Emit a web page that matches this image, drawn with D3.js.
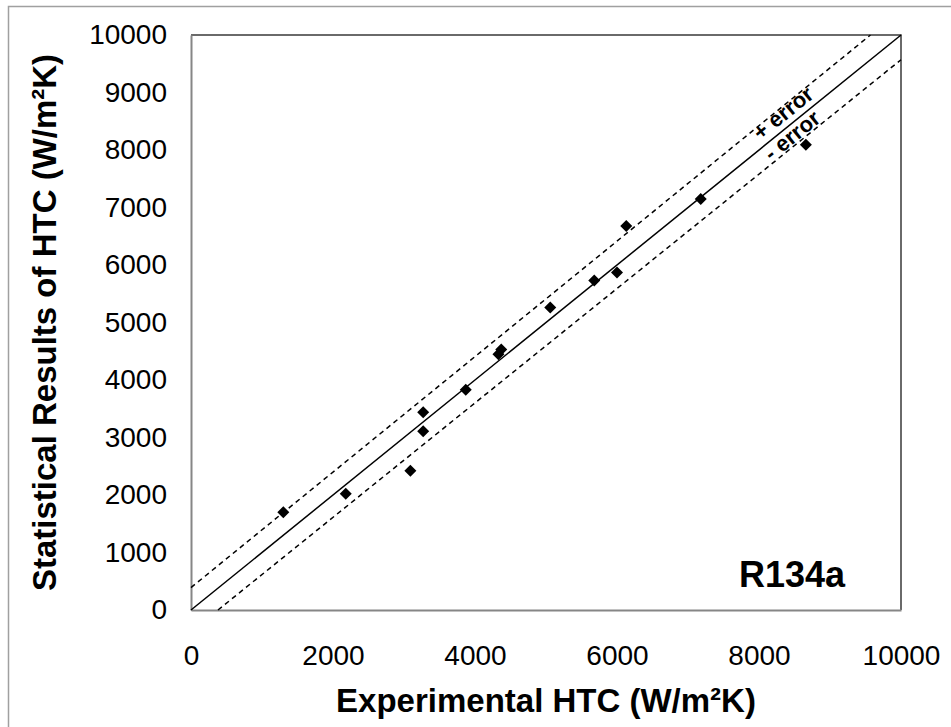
<!DOCTYPE html>
<html>
<head>
<meta charset="utf-8">
<script src="https://cdn.jsdelivr.net/npm/d3@7"></script>
<style>
  body { margin: 0; background: #fff; }
  text { font-family: "Liberation Sans", Arial, sans-serif; }
</style>
</head>
<body>
<svg id="drawing_region"></svg>
<script>
// measured vs predicted HTC (W/m2K)
const expHTC  = [1300, 2180, 3090, 3270, 3270, 3870, 4330, 4370, 5060, 5680, 6000, 6130, 7180, 8660];
const statHTC = [1700, 2020, 2420, 3110, 3440, 3830, 4450, 4530, 5260, 5730, 5870, 6680, 7150, 8090];

const xTicks = [0, 2000, 4000, 6000, 8000, 10000];
const yTicks = [0, 1000, 2000, 3000, 4000, 5000, 6000, 7000, 8000, 9000, 10000];

// reference lines (endpoints in data units)
const perfectLine = [[0, 0], [10000, 10000]];
const plusError   = [[0, 390], [9570, 10000]];
const minusError  = [[380, 0], [10000, 9570]];

const config = {
    width: 951,
    height: 727,
    margin: {top: 35, right: 50, bottom: 117, left: 191}
};

const svg = d3.select('#drawing_region')
    .attr('width', config.width)
    .attr('height', config.height);

// chart area border
svg.append('rect')
    .attr('x', 8.5).attr('y', 6.5)
    .attr('width', 1000).attr('height', 1000)
    .attr('fill', 'none')
    .attr('stroke', '#a0a0a0')
    .attr('stroke-width', 1.5);

const inner_width = config.width - config.margin.left - config.margin.right;   // 710
const inner_height = config.height - config.margin.top - config.margin.bottom; // 575

const chart = svg.append('g')
    .attr('transform', `translate(${config.margin.left}, ${config.margin.top})`);

const xscale = d3.scaleLinear().domain([0, 10000]).range([0, inner_width]);
const yscale = d3.scaleLinear().domain([0, 10000]).range([inner_height, 0]);

// plot frame: top & right dark
chart.append('path')
    .attr('d', `M0,0H${inner_width}V${inner_height}`)
    .attr('fill', 'none')
    .attr('stroke', '#3a3a3a')
    .attr('stroke-width', 1.5);

// axes
const xaxis = d3.axisBottom(xscale).tickValues(xTicks).tickSize(0).tickPadding(35).tickFormat(d3.format('d'));
const yaxis = d3.axisLeft(yscale).tickValues(yTicks).tickSize(0).tickPadding(24).tickFormat(d3.format('d'));

const xg = chart.append('g')
    .attr('transform', `translate(0, ${inner_height})`)
    .call(xaxis);
const yg = chart.append('g').call(yaxis);

[xg, yg].forEach(g => {
    g.select('.domain').attr('stroke', '#868686').attr('stroke-width', 2);
    g.selectAll('text')
        .attr('font-family', '"Liberation Sans", Arial, sans-serif')
        .attr('font-size', 28)
        .attr('fill', '#000');
});

// reference lines
const line = d3.line()
    .x(d => xscale(d[0]))
    .y(d => yscale(d[1]));

chart.append('path')
    .datum(perfectLine)
    .attr('d', line)
    .attr('fill', 'none')
    .attr('stroke', '#000')
    .attr('stroke-width', 1.5);

[plusError, minusError].forEach(l => {
    chart.append('path')
        .datum(l)
        .attr('d', line)
        .attr('fill', 'none')
        .attr('stroke', '#000')
        .attr('stroke-width', 1.5)
        .attr('stroke-dasharray', '5,4');
});

// error labels along the 1:1 line
const angle = -Math.atan2(yscale(0) - yscale(10000), xscale(10000) - xscale(0)) * 180 / Math.PI;
const errLabels = [
    {text: '+ error', v: 8460, dy: -6},
    {text: '- error', v: 8380, dy: 17}
];
chart.selectAll('.errlabel')
    .data(errLabels)
    .join('text')
    .attr('class', 'errlabel')
    .attr('transform', d => `translate(${xscale(d.v)}, ${yscale(d.v)}) rotate(${angle})`)
    .attr('dy', d => d.dy)
    .attr('text-anchor', 'middle')
    .attr('font-weight', 'bold')
    .attr('font-size', 22)
    .text(d => d.text);

// data points (diamonds)
const pts = expHTC.map((x, i) => ({x: x, y: statHTC[i]}));
chart.selectAll('.pt')
    .data(pts)
    .join('path')
    .attr('class', 'pt')
    .attr('transform', d => `translate(${xscale(d.x)}, ${yscale(d.y)})`)
    .attr('d', 'M0,-6L6,0L0,6L-6,0Z')
    .attr('fill', '#000');

// refrigerant label
chart.append('text')
    .attr('x', inner_width - 56)
    .attr('y', inner_height - 23)
    .attr('text-anchor', 'end')
    .attr('font-weight', 'bold')
    .attr('font-size', 36)
    .text('R134a');

// axis titles
svg.append('text')
    .attr('x', config.margin.left + inner_width / 2)
    .attr('y', 712)
    .attr('text-anchor', 'middle')
    .attr('font-weight', 'bold')
    .attr('font-size', 33)
    .text('Experimental HTC (W/m²K)');

svg.append('text')
    .attr('transform', `translate(56, ${config.margin.top + inner_height / 2}) rotate(-90)`)
    .attr('text-anchor', 'middle')
    .attr('font-weight', 'bold')
    .attr('font-size', 33)
    .text('Statistical Results of HTC (W/m²K)');
</script>
</body>
</html>
